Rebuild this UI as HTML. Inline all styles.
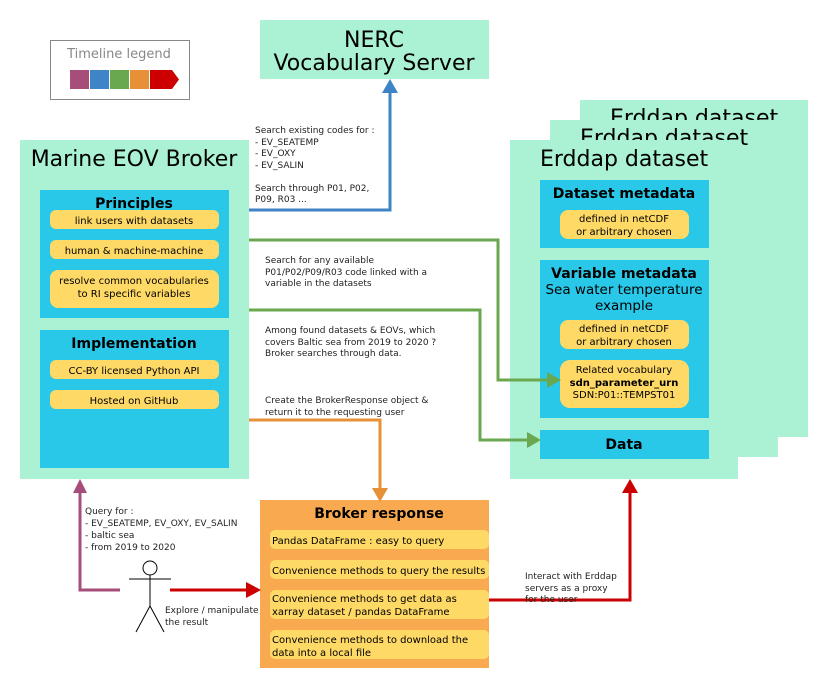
<!DOCTYPE html>
<html><head><meta charset="utf-8"><style>body{margin:0;background:#fff}svg{display:block;font-family:"DejaVu Sans","Liberation Sans",sans-serif}</style></head><body>
<svg width="830" height="690" viewBox="0 0 830 690" xmlns="http://www.w3.org/2000/svg">
<!-- legend -->
<rect x="50.5" y="40.5" width="139" height="59" fill="#fff" stroke="#888"/>
<text x="119" y="58" font-size="13" fill="#888" text-anchor="middle">Timeline legend</text>
<rect x="70" y="70" width="19" height="19" fill="#a64d79"/>
<rect x="90" y="70" width="19" height="19" fill="#3d85c6"/>
<rect x="110" y="70" width="19" height="19" fill="#6aa84f"/>
<rect x="130" y="70" width="19" height="19" fill="#e69138"/>
<path d="M150,70 H172 L179,79.5 L172,89 H150 Z" fill="#cc0000"/>
<!-- NERC -->
<rect x="260" y="20" width="229" height="59" fill="#abf1d3"/>
<text x="374" y="47" font-size="22" text-anchor="middle">NERC</text>
<text x="374" y="70" font-size="22" text-anchor="middle">Vocabulary Server</text>
<!-- Erddap stack -->
<rect x="580" y="100" width="228" height="337" fill="#abf1d3"/>
<text x="610" y="125" font-size="22">Erddap dataset</text>
<rect x="550" y="120" width="228" height="337" fill="#abf1d3"/>
<text x="580" y="145" font-size="22">Erddap dataset</text>
<rect x="510" y="140" width="228" height="339" fill="#abf1d3"/>
<text x="540" y="166" font-size="22">Erddap dataset</text>
<rect x="540" y="180" width="169" height="68" fill="#29c8e8"/>
<text x="624" y="198" font-size="14" font-weight="bold" text-anchor="middle">Dataset metadata</text>
<rect x="560" y="210" width="129" height="29" rx="8" fill="#ffd966"/>
<text x="624" y="222" font-size="10" text-anchor="middle">defined in netCDF</text>
<text x="624" y="235" font-size="10" text-anchor="middle">or arbitrary chosen</text>
<rect x="540" y="260" width="169" height="158" fill="#29c8e8"/>
<text x="624" y="278" font-size="14" font-weight="bold" text-anchor="middle">Variable metadata</text>
<text x="624" y="294" font-size="13.5" text-anchor="middle">Sea water temperature</text>
<text x="624" y="310" font-size="13.5" text-anchor="middle">example</text>
<rect x="560" y="320" width="129" height="29" rx="8" fill="#ffd966"/>
<text x="624" y="332" font-size="10" text-anchor="middle">defined in netCDF</text>
<text x="624" y="345" font-size="10" text-anchor="middle">or arbitrary chosen</text>
<rect x="560" y="360" width="129" height="48" rx="10" fill="#ffd966"/>
<text x="624" y="373" font-size="10" text-anchor="middle">Related vocabulary</text>
<text x="624" y="386" font-size="10" font-weight="bold" text-anchor="middle">sdn_parameter_urn</text>
<text x="624" y="398" font-size="10" text-anchor="middle">SDN:P01::TEMPST01</text>
<rect x="540" y="430" width="169" height="29" fill="#29c8e8"/>
<text x="624" y="449" font-size="14" font-weight="bold" text-anchor="middle">Data</text>
<!-- Broker -->
<rect x="20" y="140" width="229" height="339" fill="#abf1d3"/>
<text x="134" y="166" font-size="22" text-anchor="middle">Marine EOV Broker</text>
<rect x="40" y="190" width="189" height="128" fill="#29c8e8"/>
<text x="134" y="208" font-size="14" font-weight="bold" text-anchor="middle">Principles</text>
<rect x="50" y="210" width="169" height="19" rx="6" fill="#ffd966"/>
<text x="134" y="224" font-size="10" text-anchor="middle">link users with datasets</text>
<rect x="50" y="240" width="169" height="19" rx="6" fill="#ffd966"/>
<text x="134" y="254" font-size="10" text-anchor="middle">human &amp; machine-machine</text>
<rect x="50" y="270" width="169" height="38" rx="8" fill="#ffd966"/>
<text x="134" y="284" font-size="10" text-anchor="middle">resolve common vocabularies</text>
<text x="134" y="297" font-size="10" text-anchor="middle">to RI specific variables</text>
<rect x="40" y="330" width="189" height="138" fill="#29c8e8"/>
<text x="134" y="348" font-size="14" font-weight="bold" text-anchor="middle">Implementation</text>
<rect x="50" y="360" width="169" height="19" rx="6" fill="#ffd966"/>
<text x="134" y="374" font-size="10" text-anchor="middle">CC-BY licensed Python API</text>
<rect x="50" y="390" width="169" height="19" rx="6" fill="#ffd966"/>
<text x="134" y="404" font-size="10" text-anchor="middle">Hosted on GitHub</text>
<!-- Broker response -->
<rect x="260" y="500" width="229" height="168" fill="#f9a94f"/>
<text x="379" y="518" font-size="14" font-weight="bold" text-anchor="middle">Broker response</text>
<g font-size="10">
<rect x="270" y="530" width="219" height="19" rx="5" fill="#ffd966"/>
<text x="272" y="544">Pandas DataFrame : easy to query</text>
<rect x="270" y="560" width="219" height="19" rx="5" fill="#ffd966"/>
<text x="272" y="574">Convenience methods to query the results</text>
<rect x="270" y="590" width="219" height="29" rx="5" fill="#ffd966"/>
<text x="272" y="602">Convenience methods to get data as</text>
<text x="272" y="615">xarray dataset / pandas DataFrame</text>
<rect x="270" y="630" width="219" height="29" rx="5" fill="#ffd966"/>
<text x="272" y="643">Convenience methods to download the</text>
<text x="272" y="656">data into a local file</text>
</g>
<!-- connectors -->
<path d="M249,210 H390 V92" fill="none" stroke="#3d83c6" stroke-width="3"/>
<path d="M382,93 L390,79 L398,93 Z" fill="#3d83c6"/>
<path d="M249,240 H498 V380 H548" fill="none" stroke="#6aa84f" stroke-width="3"/>
<path d="M547,372 L561,380 L547,388 Z" fill="#6aa84f"/>
<path d="M249,310 H480 V440 H528" fill="none" stroke="#6aa84f" stroke-width="3"/>
<path d="M527,432 L541,440 L527,448 Z" fill="#6aa84f"/>
<path d="M249,420 H380 V490" fill="none" stroke="#e69138" stroke-width="3"/>
<path d="M372,488 L380,502 L388,488 Z" fill="#e69138"/>
<path d="M120,590 H80 V491" fill="none" stroke="#a64d79" stroke-width="3"/>
<path d="M73,493 L80,479 L87,493 Z" fill="#a64d79"/>
<path d="M170,590 H248" fill="none" stroke="#cc0000" stroke-width="3"/>
<path d="M246,582 L261,590 L246,598 Z" fill="#cc0000"/>
<path d="M489,600 H630 V491" fill="none" stroke="#cc0000" stroke-width="3"/>
<path d="M622,493 L630,479 L638,493 Z" fill="#cc0000"/>
<!-- stick figure -->
<g stroke="#000" fill="none" stroke-width="1">
<circle cx="150" cy="568" r="7" fill="#fff"/>
<path d="M150,575 V606 M129,579 H171 M150,606 L136,632 M150,606 L164,632"/>
</g>
<!-- labels -->
<g font-size="9" fill="#222">
<text x="255" y="133">Search existing codes for :</text>
<text x="255" y="145">- EV_SEATEMP</text>
<text x="255" y="156">- EV_OXY</text>
<text x="255" y="168">- EV_SALIN</text>
<text x="255" y="191">Search through P01, P02,</text>
<text x="255" y="202">P09, R03 ...</text>
<text x="265" y="263">Search for any available</text>
<text x="265" y="275">P01/P02/P09/R03 code linked with a</text>
<text x="265" y="286">variable in the datasets</text>
<text x="265" y="333">Among found datasets &amp; EOVs, which</text>
<text x="265" y="345">covers Baltic sea from 2019 to 2020 ?</text>
<text x="265" y="356">Broker searches through data.</text>
<text x="265" y="403">Create the BrokerResponse object &amp;</text>
<text x="265" y="415">return it to the requesting user</text>
<text x="85" y="514">Query for :</text>
<text x="85" y="526">- EV_SEATEMP, EV_OXY, EV_SALIN</text>
<text x="85" y="538">- baltic sea</text>
<text x="85" y="550">- from 2019 to 2020</text>
<text x="165" y="613">Explore / manipulate</text>
<text x="165" y="625">the result</text>
<text x="525" y="579">Interact with Erddap</text>
<text x="525" y="591">servers as a proxy</text>
<text x="525" y="602">for the user</text>
</g>
</svg>
</body></html>
